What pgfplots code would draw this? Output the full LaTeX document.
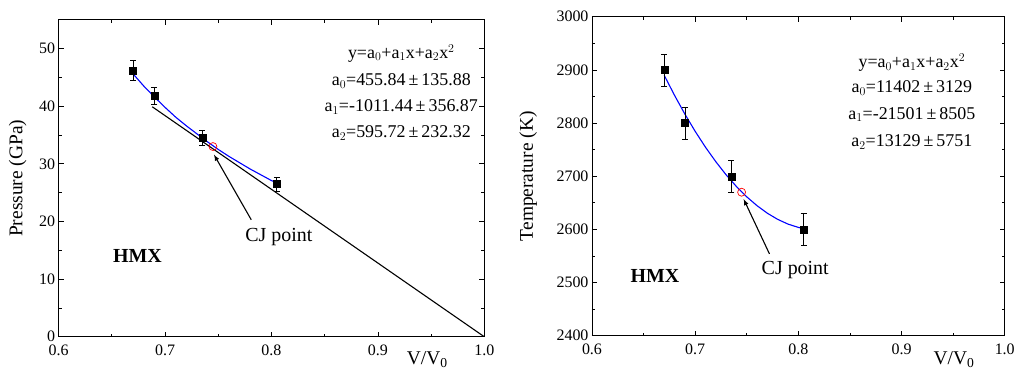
\documentclass[border=0pt]{standalone}
\usepackage{pgfplots}
\pgfplotsset{compat=1.18}
\usepackage{fontspec}
\setmainfont{Liberation Serif}
\tikzset{
  eq/.style={font=\fontsize{18}{18}\selectfont, anchor=base},
  big/.style={font=\fontsize{20}{20}\selectfont, anchor=base},
  bigb/.style={font=\fontsize{20}{20}\bfseries\selectfont, anchor=base},
}
\begin{document}
\begin{tikzpicture}
\path (0.2pt,0.2pt) rectangle (1017.8pt,374.8pt);
\pgfplotsset{
  myax/.style={
    scale only axis,
    anchor=south west,
    xmin=0.6, xmax=1.0,
    xtick={0.6,0.7,0.8,0.9,1.0},
    minor xtick={0.65,0.75,0.85,0.95},
    xticklabels={0.6,0.7,0.8,0.9,1.0},
    tick align=inside,
    major tick length=5pt, minor tick length=3pt,
    tick style={black, line width=0.7pt},
    axis line style={line width=0.9pt},
    /pgf/number format/assume math mode=true,
    ticklabel style={font=\fontsize{16}{16}\selectfont},
    xticklabel style={anchor=center, yshift=-14pt},
    label style={font=\fontsize{19.5}{19.5}\selectfont},
    xlabel={V/V$_{\mathrm{0}}$},
    error bars/error bar style={line width=0.7pt},
    error bars/error mark options={rotate=90, mark size=3pt, line width=0.7pt},
  },
}
% ---------- Left: Pressure ----------
\begin{axis}[myax,
  at={(59pt,37pt)}, width=427pt, height=318pt,
  ymin=0, ymax=55,
  ytick={0,10,20,30,40,50},
  minor ytick={5,15,25,35,45},
  ylabel={Pressure (GPa)},
  ylabel style={at={(axis description cs:0,0.5)}, anchor=center, yshift=41pt},
  xlabel style={at={(axis description cs:0.866,0)}, anchor=base, yshift=-28pt},
]
\addplot[black, line width=1.1pt] coordinates {(0.688,39.9) (1.0,0.0)};
\addplot[blue, line width=1.1pt] coordinates {
 (0.670,45.6) (0.680,43.5) (0.690,41.6) (0.700,39.8) (0.710,38.1)
 (0.720,36.6) (0.730,35.2) (0.740,33.8) (0.750,32.5) (0.760,31.3)
 (0.770,30.2) (0.780,29.1) (0.790,28.1) (0.800,27.1) (0.805,26.7)};
\addplot[only marks, mark=square*, mark size=3.5pt, black,
  error bars/.cd, y dir=both, y explicit] coordinates {
 (0.670,46.2) +- (0,1.7)
 (0.690,41.8) +- (0,1.5)
 (0.735,34.5) +- (0,1.3)
 (0.805,26.5) +- (0,1.2)};
\addplot[only marks, mark=o, mark size=4pt, red, mark options={line width=0.7pt, fill=white}] coordinates {(0.745,33.0)};
\draw[-latex, line width=1.1pt] (axis cs:0.781,20.3) -- (axis cs:0.746,31.6);
\node[big] at (axis cs:0.807,16.6) {CJ point};
\node[bigb] at (axis cs:0.674,12.9) {HMX};
\node[eq] at (axis cs:0.922,48.3) {y=a$_0$+a$_1$x+a$_2$x$^2$};
\node[eq] at (axis cs:0.922,43.6) {a$_0$=455.84\,±\,135.88};
\node[eq] at (axis cs:0.922,39.0) {a$_1$=-1011.44\,±\,356.87};
\node[eq] at (axis cs:0.922,34.5) {a$_2$=595.72\,±\,232.32};
\end{axis}
% ---------- Right: Temperature ----------
\begin{axis}[myax,
  at={(594pt,38pt)}, width=414pt, height=320pt,
  ymin=2400, ymax=3000,
  ytick={2400,2500,2600,2700,2800,2900,3000},
  minor ytick={2450,2550,2650,2750,2850,2950},
  yticklabel style={/pgf/number format/set thousands separator={}},
  ylabel={Temperature (K)},
  ylabel style={at={(axis description cs:0,0.5)}, anchor=center, yshift=64pt},
  xlabel style={at={(axis description cs:0.877,0)}, anchor=base, yshift=-29pt},
]
\addplot[blue, line width=1.1pt] coordinates {
 (0.670,2889.9) (0.680,2852.2) (0.690,2817.0) (0.700,2784.5) (0.710,2754.6)
 (0.720,2727.4) (0.730,2702.7) (0.740,2680.7) (0.750,2661.3) (0.760,2644.6)
 (0.770,2630.4) (0.780,2618.9) (0.790,2610.0) (0.800,2603.8) (0.805,2601.6)};
\addplot[only marks, mark=square*, mark size=3.5pt, black,
  error bars/.cd, y dir=both, y explicit] coordinates {
 (0.670,2900) +- (0,30)
 (0.690,2800) +- (0,30)
 (0.735,2700) +- (0,30)
 (0.805,2600) +- (0,30)};
\addplot[only marks, mark=o, mark size=4pt, red, mark options={line width=0.7pt, fill=white}] coordinates {(0.745,2670)};
\draw[-latex, line width=1.1pt] (axis cs:0.772,2554) -- (axis cs:0.747,2657);
\node[big] at (axis cs:0.797,2516) {CJ point};
\node[bigb] at (axis cs:0.661,2501) {HMX};
\node[eq] at (axis cs:0.910,2904) {y=a$_0$+a$_1$x+a$_2$x$^2$};
\node[eq] at (axis cs:0.910,2857.5) {a$_0$=11402\,±\,3129};
\node[eq] at (axis cs:0.910,2807) {a$_1$=-21501\,±\,8505};
\node[eq] at (axis cs:0.910,2756) {a$_2$=13129\,±\,5751};
\end{axis}
\end{tikzpicture}
\end{document}
